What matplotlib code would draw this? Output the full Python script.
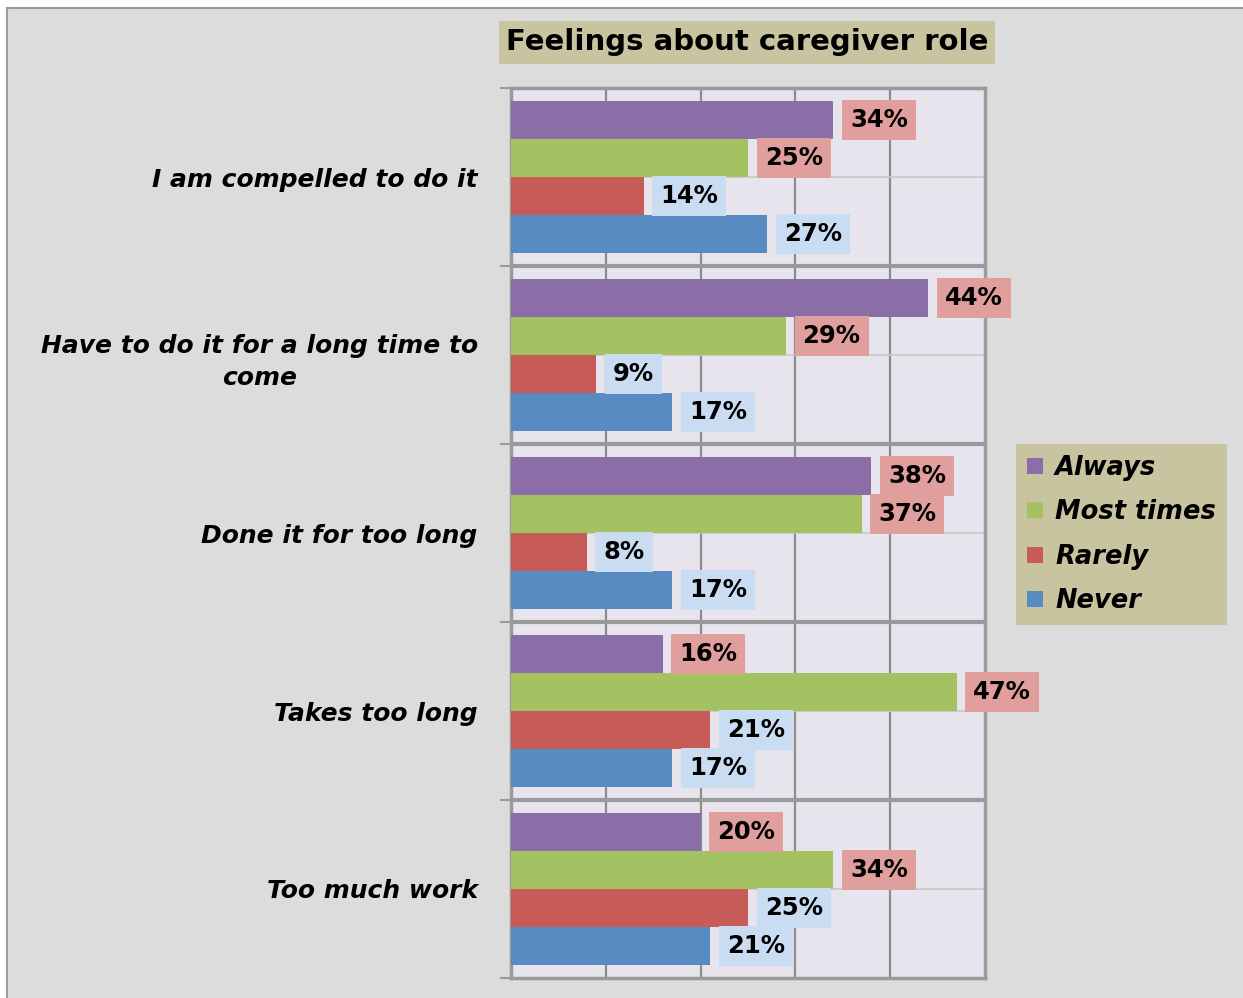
import numpy as np
import matplotlib.pyplot as plt
from matplotlib.patches import Patch, Rectangle

categories = [
    "I am compelled to do it",
    "Have to do it for a long time to\ncome",
    "Done it for too long",
    "Takes too long",
    "Too much work",
]
series = ["Always", "Most times", "Rarely", "Never"]
always = [34, 44, 38, 16, 20]
most_times = [25, 29, 37, 47, 34]
rarely = [14, 9, 8, 21, 25]
never = [27, 17, 17, 17, 21]

bar_colors = ["#8b6ea8", "#a5c262", "#c75b57", "#598bc3"]
box_colors = ["#e09e9c", "#e09e9c", "#cadcf2", "#cadcf2"]
tan = "#c9c4a0"

W, H = 1243, 998
fig = plt.figure(figsize=(W / 100, H / 100), dpi=100, facecolor="white")

# grey chart area with border
bg = Rectangle((7 / W, -0.01), 1.0, 1 - 8 / H + 0.01, transform=fig.transFigure,
               facecolor="#dcdcdc", edgecolor="#9a9a9a", lw=1.5, zorder=-10)
fig.patches.append(bg)

ax = fig.add_axes([511 / W, 1 - 978 / H, 474 / W, 890 / H])
ax.set_facecolor("#e8e4ee")

centers = np.arange(len(categories))
offsets = [-0.321, -0.107, 0.107, 0.321]
bh = 0.214

for vals, off, col, bcol in zip([always, most_times, rarely, never], offsets, bar_colors, box_colors):
    ys = centers + off
    ax.barh(ys, vals, height=bh, color=col, zorder=3)
    for v, y in zip(vals, ys):
        ax.annotate(f"{v}%", xy=(v, y), xytext=(12, 0), textcoords="offset points",
                    ha="left", va="center", fontsize=17.5, fontweight="bold",
                    bbox=dict(boxstyle="square,pad=0.33", fc=bcol, ec="none"),
                    annotation_clip=False, zorder=4)

ax.set_xlim(0, 50)
ax.set_ylim(len(categories) - 0.5, -0.5)

# vertical gridlines
ax.set_xticks([10, 20, 30, 40])
ax.xaxis.grid(True, color="#8c8c8c", lw=1.6, zorder=1)
ax.set_axisbelow(True)
ax.tick_params(axis="x", length=0, labelbottom=False)

# horizontal lines: group boundaries and light mid lines
for b in centers[:-1] + 0.5:
    ax.axhline(b, color="#9a9a9a", lw=3, zorder=2)
for c in centers:
    ax.axhline(c, color="#c8c8c8", lw=1.2, zorder=1)

ax.set_yticks(np.arange(-0.5, len(categories), 1.0))
ax.set_yticklabels([])
ax.tick_params(axis="y", which="major", length=8, color="#9a9a9a", width=1.5, direction="out")
ax.set_yticks(centers, minor=True)
ax.set_yticklabels(categories, minor=True, fontsize=18, fontweight="bold", fontstyle="italic")
ax.tick_params(axis="y", which="minor", length=0, pad=24)
for lbl in ax.get_yticklabels(minor=True):
    lbl.set_multialignment("center")
    lbl.set_linespacing(1.45)

for s in ax.spines.values():
    s.set_color("#9a9a9a")
    s.set_linewidth(2.5)

# title
fig.text(747 / W, 1 - 42.5 / H, "Feelings about caregiver role", ha="center", va="center",
         fontsize=21, fontweight="bold",
         bbox=dict(boxstyle="square,pad=0.245", fc=tan, ec="none"))

# legend
handles = [Patch(facecolor=c, edgecolor="none") for c in bar_colors]
fig.legend(handles, series, loc="upper left", bbox_to_anchor=(1016 / W, 1 - 444 / H),
           frameon=True, facecolor=tan, edgecolor="none", fancybox=False, framealpha=1,
           prop=dict(weight="bold", style="italic", size=18.5),
           handlelength=0.65, handleheight=0.6, handletextpad=0.45,
           labelspacing=0.72, borderpad=0.42, borderaxespad=0)
fig.legends[0]._legend_box.sep = 0
fig.legends[0].borderpad = 0.42

fig.savefig("out.png", dpi=100, facecolor=fig.get_facecolor())
